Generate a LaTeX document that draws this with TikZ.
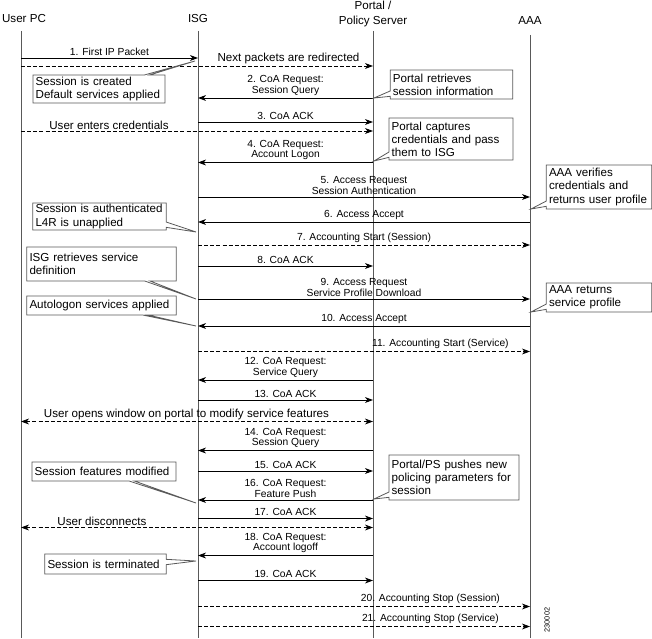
\documentclass[tikz,border=0pt]{standalone}
\usepackage{fontspec}
\setmainfont{Liberation Sans}
\usetikzlibrary{arrows.meta,calc,shapes.callouts}

\begin{document}
\begin{tikzpicture}[x=0.75pt, y=-0.75pt,
    >={Stealth[length=6pt,width=4.4pt,inset=1.8pt]},
    big/.style={font=\fontsize{8.7}{9.8}\selectfont},
    small/.style={font=\fontsize{7.7}{7.8}\selectfont},
    life/.style={draw=black!65, line width=0.7pt},
    msg/.style={->, line width=0.6pt},
    dmsg/.style={msg, dash pattern=on 3pt off 1.6pt},
    lbl/.style={small, above, align=center, inner sep=1.6pt},
    say/.style={big, above, inner sep=1pt},
    note/.style={rectangle callout, draw=black!65, line width=0.6pt, fill=white,
      big, align=left, inner xsep=2pt, inner ysep=1pt, callout pointer width=4pt}]
    \useasboundingbox (0,0) rectangle (652,638);
    % heads
    \node[big] (pchead) at (24,19) {User PC};
    \node[big] (isghead) at (198,19) {ISG};
    \node[big, align=center, font=\fontsize{8.7}{11}\selectfont] (pshead) at (373,14) {Portal /\\Policy Server};
    \node[big] (aaahead) at (530,21) {AAA};
    % lifelines
    \coordinate (pc) at (21,31);
    \coordinate (isg) at (198,31);
    \coordinate (ps) at (373,31);
    \coordinate (aaa) at (530,35);
    \coordinate (pcend) at (21,638);
    \coordinate (isgend) at (198,638);
    \coordinate (psend) at (373,638);
    \coordinate (aaaend) at (530,638);
    \draw[life] (pc) -- (pcend);
    \draw[life] (isg) -- (isgend);
    \draw[life] (ps) -- (psend);
    \draw[life] (aaa) -- (aaaend);
    % login
    \draw[msg] (pc |- 0,58) -- node[lbl] (m1) {1. First IP Packet} (isg |- 0,58);
    \draw[dmsg] (pc |- 0,66) -- node[say, pos=0.76] (redir) {Next packets are redirected} (ps |- 0,66);
    \draw[msg] (ps |- 0,98) -- node[lbl] (m2) {2. CoA Request:\\Session Query} (isg |- 0,98);
    \draw[msg] (isg |- 0,122) -- node[lbl] (m3) {3. CoA ACK} (ps |- 0,122);
    \draw[dmsg] (pc |- 0,131) -- node[say, pos=0.25] (creds) {User enters credentials} (ps |- 0,131);
    \draw[msg] (ps |- 0,162.5) -- node[lbl] (m4) {4. CoA Request:\\Account Logon} (isg |- 0,162.5);
    \draw[msg] (isg |- 0,197) -- node[lbl] (m5) {5. Access Request\\Session Authentication} (aaa |- 0,197);
    \draw[msg] (aaa |- 0,222) -- node[lbl] (m6) {6. Access Accept} (isg |- 0,222);
    \draw[dmsg] (isg |- 0,245) -- node[lbl] (m7) {7. Accounting Start (Session)} (aaa |- 0,245);
    \draw[msg] (isg |- 0,266) -- node[lbl] (m8) {8. CoA ACK} (ps |- 0,266);
    \draw[msg] (isg |- 0,299) -- node[lbl] (m9) {9. Access Request\\Service Profile Download} (aaa |- 0,299);
    \draw[msg] (aaa |- 0,326) -- node[lbl] (m10) {10. Access Accept} (isg |- 0,326);
    \draw[dmsg] (isg |- 0,351.5) -- node[lbl, pos=0.73] (m11) {11. Accounting Start (Service)} (aaa |- 0,351.5);
    % service change
    \draw[msg] (ps |- 0,380) -- node[lbl] (m12) {12. CoA Request:\\Service Query} (isg |- 0,380);
    \draw[msg] (isg |- 0,400) -- node[lbl] (m13) {13. CoA ACK} (ps |- 0,400);
    \draw[dmsg, <->] (pc |- 0,421.5) -- node[say, pos=0.47] (window) {User opens window on portal to modify service features} (ps |- 0,421.5);
    \draw[msg] (ps |- 0,450.5) -- node[lbl] (m14) {14. CoA Request:\\Session Query} (isg |- 0,450.5);
    \draw[msg] (isg |- 0,471) -- node[lbl] (m15) {15. CoA ACK} (ps |- 0,471);
    \draw[msg] (ps |- 0,500) -- node[lbl] (m16) {16. CoA Request:\\Feature Push} (isg |- 0,500);
    \draw[msg] (isg |- 0,518.5) -- node[lbl] (m17) {17. CoA ACK} (ps |- 0,518.5);
    % logoff
    \draw[dmsg, <->] (pc |- 0,527.5) -- node[say, pos=0.23] (disc) {User disconnects} (ps |- 0,527.5);
    \draw[msg] (ps |- 0,555.5) -- node[lbl] (m18) {18. CoA Request:\\Account logoff} (isg |- 0,555.5);
    \draw[msg] (isg |- 0,580.5) -- node[lbl] (m19) {19. CoA ACK} (ps |- 0,580.5);
    \draw[dmsg] (isg |- 0,606.5) -- node[lbl, pos=0.7] (m20) {20. Accounting Stop (Session)} (aaa |- 0,606.5);
    \draw[dmsg] (isg |- 0,626.5) -- node[lbl, pos=0.7] (m21) {21. Accounting Stop (Service)} (aaa |- 0,626.5);
    % notes
    \node[note, text width=95pt, minimum height=21pt, callout absolute pointer={(195,61)}]
      (created) at (99,89) {Session is created\\Default services applied};
    \node[note, text width=88pt, minimum height=21.75pt, callout absolute pointer={(374,98)}]
      (retrieve) at (451.5,84.5) {Portal retrieves\\session information};
    \node[note, text width=89pt, minimum height=31.5pt, callout absolute pointer={(374,161)}]
      (capture) at (451,139) {Portal captures\\credentials and pass\\them to ISG};
    \node[note, text width=75pt, minimum height=33pt, callout absolute pointer={(531,209)}]
      (verify) at (599,187) {AAA verifies\\credentials and\\returns user profile};
    \node[note, text width=96pt, minimum height=20.25pt, callout absolute pointer={(196,232)}]
      (authd) at (99.5,216.5) {Session is authenticated\\L4R is unapplied};
    \node[note, text width=108pt, minimum height=25.5pt, callout absolute pointer={(196,299)}]
      (svcdef) at (101.5,264) {ISG retrieves service\\definition};
    \node[note, text width=75pt, minimum height=21.75pt, callout absolute pointer={(531,312)}]
      (profile) at (599,297.5) {AAA returns\\service profile};
    \node[note, text width=108pt, minimum height=14.25pt, callout absolute pointer={(196,326)}]
      (autolog) at (101.5,305.5) {Autologon services applied};
    \node[note, text width=104pt, minimum height=14.25pt, callout absolute pointer={(196,503)}]
      (modified) at (104,471.5) {Session features modified};
    \node[note, text width=93.5pt, minimum height=33.75pt, callout absolute pointer={(374,499)}]
      (push) at (454,477.5) {Portal/PS pushes new\\policing parameters for\\session};
    \node[note, text width=87pt, minimum height=15pt, callout absolute pointer={(196,561)}]
      (ended) at (105.5,564) {Session is terminated};
    % figure number
    \node[font=\fontsize{5.5}{6}\selectfont, rotate=90] (fignum) at (547,620) {230002};
\end{tikzpicture}
\end{document}
